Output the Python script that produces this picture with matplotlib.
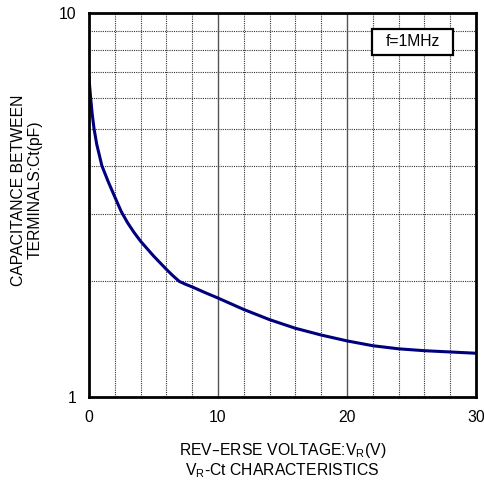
import matplotlib
matplotlib.use("Agg")
import matplotlib.pyplot as plt
from matplotlib.ticker import FixedLocator, NullFormatter, FixedFormatter
from matplotlib.patches import Rectangle

plt.rcParams['font.family'] = ['Liberation Sans', 'DejaVu Sans']

voltage = [0, 0.05, 0.13, 0.25, 0.39, 0.6, 1.0, 1.5, 2.0, 2.5, 3.0, 3.5, 4.0, 5.0, 6.0, 6.5, 7.0, 7.5, 8.0, 9.0, 10, 12, 14, 16, 18, 20, 22, 24, 26, 28, 30]
capacitance = [6.85, 6.45, 6.0, 5.45, 5.0, 4.55, 4.0, 3.63, 3.32, 3.04, 2.84, 2.68, 2.545, 2.33, 2.15, 2.07, 2.0, 1.965, 1.935, 1.87, 1.81, 1.69, 1.59, 1.51, 1.45, 1.40, 1.36, 1.335, 1.32, 1.31, 1.30]
x_ticks = [0, 10, 20, 30]
y_ticks = [1, 10]
x_minor = [2, 4, 6, 8, 12, 14, 16, 18, 22, 24, 26, 28]
y_minor = [2, 3, 4, 5, 6, 7, 8, 9]

fig = plt.figure(figsize=(4.85, 4.84), dpi=100)
ax = fig.add_axes([89/485, 1-397/484, 387/485, 384/484])
ax.set_yscale('log')
ax.set_xlim(0, 30)
ax.set_ylim(1, 10)

for xv in x_minor:
    ax.axvline(xv, color='#333333', linestyle=(0, (1, 1)), linewidth=0.8, zorder=1)
for yv in y_minor:
    ax.axhline(yv, color='#333333', linestyle=(0, (1, 1)), linewidth=0.8, zorder=1)
for xv in [10, 20]:
    ax.axvline(xv, color='#555555', linestyle='-', linewidth=1.0, zorder=1)

ax.plot(voltage, capacitance, color='#00007f', linewidth=2.2, zorder=3,
        solid_joinstyle='round', solid_capstyle='butt')

ax.xaxis.set_major_locator(FixedLocator(x_ticks))
ax.yaxis.set_major_locator(FixedLocator(y_ticks))
ax.yaxis.set_major_formatter(FixedFormatter([str(v) for v in y_ticks]))
ax.yaxis.set_minor_locator(FixedLocator([]))
ax.yaxis.set_minor_formatter(NullFormatter())
ax.tick_params(axis='both', which='both', length=0, labelsize=11.3, pad=9)

for s in ax.spines.values():
    s.set_linewidth(2.0)
    s.set_zorder(5)

# legend-like box
bx0, by0, bx1, by1 = 372, 29, 453, 55
fig.patches.append(Rectangle((bx0/485, 1-by1/484), (bx1-bx0)/485, (by1-by0)/484,
                             transform=fig.transFigure, facecolor='white',
                             edgecolor='black', linewidth=1.6, zorder=6))
fig.text((bx0+bx1)/2/485, 1-(by0+by1)/2/484, 'f=1MHz', ha='center', va='center',
         fontsize=11.3, zorder=7)

fig.text(0.5 * (89 + 476) / 485, 1 - 451/484, 'REV–ERSE VOLTAGE:V$_\\mathregular{R}$(V)',
         ha='center', va='center', fontsize=11.3)
fig.text(0.5 * (89 + 476) / 485, 1 - 471/484, 'V$_\\mathregular{R}$-Ct CHARACTERISTICS',
         ha='center', va='center', fontsize=11.3)
fig.text(27/485, 1 - 190/484, 'CAPACITANCE BETWEEN\nTERMINALS:Ct(pF)', rotation=90,
         ha='center', va='center', fontsize=11.3, multialignment='center', linespacing=1.1)

fig.savefig('out.png', dpi=100)
